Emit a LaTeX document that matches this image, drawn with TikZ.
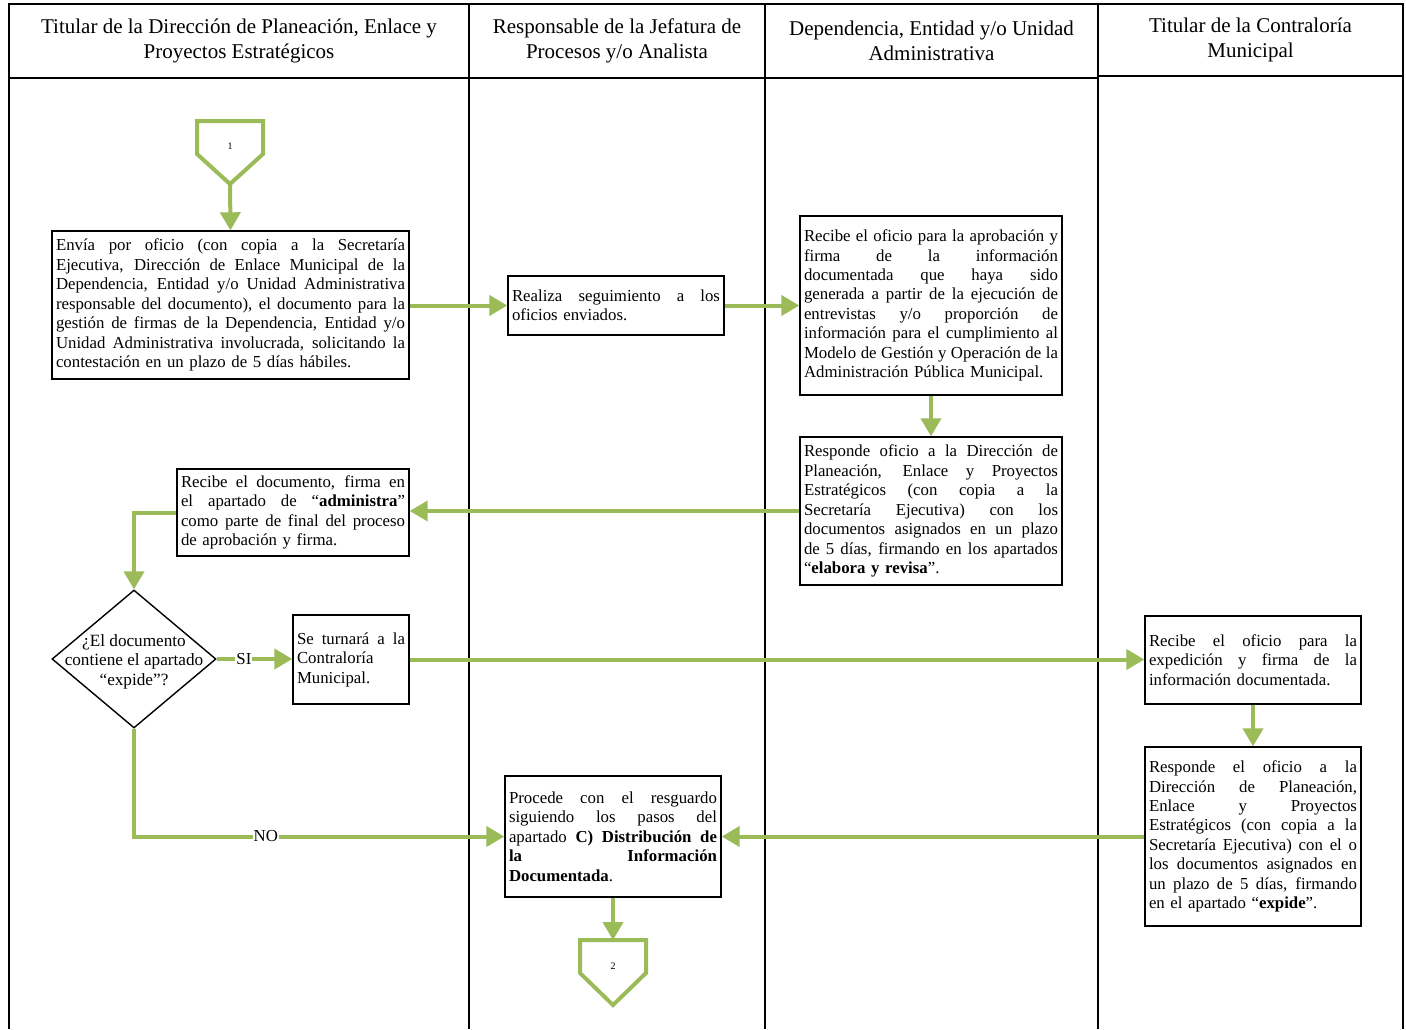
\documentclass[tikz,border=0pt]{standalone}
\usepackage{fontspec}
\setmainfont{Liberation Serif}
\usetikzlibrary{arrows.meta,shapes.geometric}
\definecolor{lgreen}{HTML}{9BBB59}
\newlength\jlw
\newcommand\jl[1]{\leavevmode\hbox to\jlw{\spaceskip=0.25em plus 3em minus 0.06em\relax #1}\\}
\newcommand\bodyfont{\fontsize{16.8}{19.45}\selectfont}
\newcommand\hdrfont{\fontsize{21}{25}\selectfont}
\begin{document}
\begin{tikzpicture}[x=1pt,y=-1pt,
  box/.style={draw=black,line width=1.4pt,fill=white,inner xsep=4pt,inner ysep=0pt,align=left,font=\bodyfont,anchor=center,text width=#1,execute at begin node={\setlength\jlw{#1}}},
  arr/.style={draw=lgreen,line width=4pt,-{Triangle[length=18pt,width=20pt]}},
  conn/.style={draw=lgreen,line width=4pt,fill=white,line join=miter},
  grid/.style={draw=black,line width=1.4pt},
  hdr/.style={align=center,font=\hdrfont,inner sep=0pt},
  lbl/.style={fill=white,inner sep=1pt,font=\bodyfont},
  num/.style={font=\fontsize{10}{12}\selectfont,inner sep=0pt}
]
\useasboundingbox (0,0) rectangle (1406,1029);
\fill[white] (0,0) rectangle (1406,1029);
% grid
\draw[grid] (9,1029) -- (9,4) -- (1403,4) -- (1403,1029);
\draw[grid] (469,4) -- (469,1029);
\draw[grid] (765,4) -- (765,1029);
\draw[grid] (1098,4) -- (1098,1029);
\draw[grid] (9,78) -- (1098,78);
\draw[grid] (1098,76) -- (1403,76);
% headers
\node[hdr] (h1) at (239,41) {Titular de la Dirección de Planeación, Enlace y\\Proyectos Estratégicos};
\node[hdr] (h2) at (617,41) {Responsable de la Jefatura de\\Procesos y/o Analista};
\node[hdr] (h3) at (931.5,41) {Dependencia, Entidad y/o Unidad\\Administrativa};
\node[hdr] (h4) at (1250.5,40) {Titular de la Contraloría\\Municipal};
% connector 1
\draw[conn] (197,121) -- (263,121) -- (263,154) -- (230,184) -- (197,154) -- cycle;
\node[num] (c1) at (230,146) {1};
\coordinate (c1tip) at (230,184);
% boxes
\node[box=349pt,minimum height=148pt] (A) at (230.5,305) {%
\jl{Envía por oficio (con copia a la Secretaría}
\jl{Ejecutiva, Dirección de Enlace Municipal de la}
\jl{Dependencia, Entidad y/o Unidad Administrativa}
\jl{responsable del documento), el documento para la}
\jl{gestión de firmas de la Dependencia, Entidad y/o}
\jl{Unidad Administrativa involucrada, solicitando la}
contestación en un plazo de 5 días hábiles.};
\node[box=208pt,minimum height=59pt] (B) at (616,305.5) {%
\jl{Realiza seguimiento a los}
oficios enviados.};
\node[box=254pt,minimum height=179pt] (C) at (931,305.5) {%
\jl{Recibe el oficio para la aprobación y}
\jl{firma de la información}
\jl{documentada que haya sido}
\jl{generada a partir de la ejecución de}
\jl{entrevistas y/o proporción de}
\jl{información para el cumplimiento al}
\jl{Modelo de Gestión y Operación de la}
Administración Pública Municipal.};
\node[box=254pt,minimum height=148pt] (D) at (931,511) {%
\jl{Responde oficio a la Dirección de}
\jl{Planeación, Enlace y Proyectos}
\jl{Estratégicos (con copia a la}
\jl{Secretaría Ejecutiva) con los}
\jl{documentos asignados en un plazo}
\jl{de 5 días, firmando en los apartados}
“\textbf{elabora y revisa}”.};
\node[box=224pt,minimum height=87pt] (E) at (293,512.5) {%
\jl{Recibe el documento, firma en}
\jl{el apartado de “\textbf{administra}”}
\jl{como parte de final del proceso}
de aprobación y firma.};
\node[draw=black,line width=1.4pt,fill=white,diamond,minimum width=164pt,minimum height=138pt,inner sep=0pt] (dia) at (134,659) {};
\node[align=center,font=\fontsize{17.2}{19.5}\selectfont,inner sep=0pt] (diatext) at (134,661.5) {¿El documento\\contiene el apartado\\“expide”?};
\node[box=108pt,minimum height=89pt] (F) at (351,659.5) {%
\jl{Se turnará a la}
Contraloría\\
Municipal.};
\node[box=208pt,minimum height=88pt] (G) at (1253,660) {%
\jl{Recibe el oficio para la}
\jl{expedición y firma de la}
información documentada.};
\node[box=208pt,minimum height=179pt] (H) at (1253,836.5) {%
\jl{Responde el oficio a la}
\jl{Dirección de Planeación,}
\jl{Enlace y Proyectos}
\jl{Estratégicos (con copia a la}
\jl{Secretaría Ejecutiva) con el o}
\jl{los documentos asignados en}
\jl{un plazo de 5 días, firmando}
en el apartado “\textbf{expide}”.};
\node[box=208pt,minimum height=121pt] (I) at (613,836.5) {%
\jl{Procede con el resguardo}
\jl{siguiendo los pasos del}
\jl{apartado \textbf{C) Distribución de}}
\jl{\textbf{la Información}}
\textbf{Documentada}.};
% connector 2
\draw[conn] (580,940) -- (646,940) -- (646,973) -- (613,1005) -- (580,973) -- cycle;
\node[num] (c2) at (613,966) {2};
\coordinate (c2top) at (613,940);
% arrows
\draw[arr] (c1tip) -- (A.north);
\draw[arr] (A.east |- B.west) -- (B.west);
\draw[arr] (B.east) -- (C.west);
\draw[arr] (C.south) -- (D.north);
\draw[arr] (D.west) -- (D.west -| E.east);
\draw[arr] (E.west) -| (dia.north);
\draw[arr] (dia.east) -- node[lbl,pos=0.36] (si) {SI} (dia.east -| F.west);
\draw[arr] (F.east) -- (F.east -| G.west);
\draw[arr] (G.south) -- (H.north);
\draw[arr] (H.west) -- (H.west -| I.east);
\draw[arr] (dia.south) |- node[lbl,pos=0.678] (no) {NO} (I.west);
\draw[arr] (I.south) -- (c2top);
\end{tikzpicture}
\end{document}
